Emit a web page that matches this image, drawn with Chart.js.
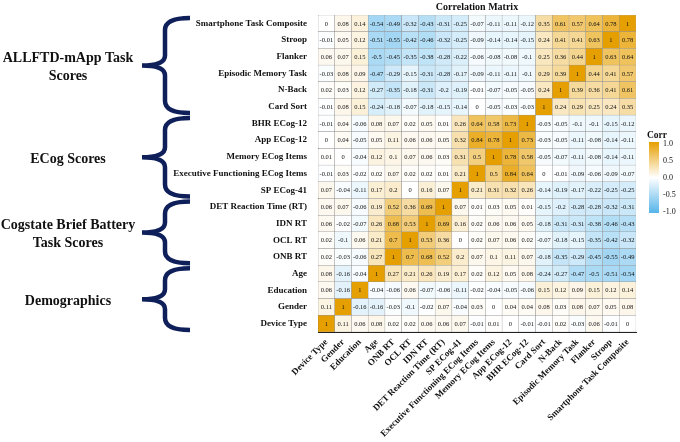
<!DOCTYPE html>
<html>
<head>
<meta charset="utf-8">
<script src="https://cdn.jsdelivr.net/npm/chart.js@4.4.0/dist/chart.umd.min.js"></script>
<style>
  html, body { margin: 0; padding: 0; background: #fff; }
  canvas { display: block; }
</style>
</head>
<body>
<canvas id="corrChart" width="680" height="442" style="width:680px;height:442px"></canvas>
<script>
// ── Data ────────────────────────────────────────────────
// rows listed top → bottom, columns left → right
const rowLabels = [
  'Smartphone Task Composite', 'Stroop', 'Flanker', 'Episodic Memory Task', 'N-Back', 'Card Sort',
  'BHR ECog-12', 'App ECog-12', 'Memory ECog Items', 'Executive Functioning ECog Items', 'SP ECog-41',
  'DET Reaction Time (RT)', 'IDN RT', 'OCL RT', 'ONB RT',
  'Age', 'Education', 'Gender', 'Device Type'
];
const colLabels = [
  'Device Type', 'Gender', 'Education', 'Age', 'ONB RT', 'OCL RT', 'IDN RT', 'DET Reaction Time (RT)',
  'SP ECog-41', 'Executive Functioning ECog Items', 'Memory ECog Items', 'App ECog-12', 'BHR ECog-12',
  'Card Sort', 'N-Back', 'Episodic Memory Task', 'Flanker', 'Stroop', 'Smartphone Task Composite'
];
const corr = [
  [0, 0.08, 0.14, -0.54, -0.49, -0.32, -0.43, -0.31, -0.25, -0.07, -0.11, -0.11, -0.12, 0.35, 0.61, 0.57, 0.64, 0.78, 1],
  [-0.01, 0.05, 0.12, -0.51, -0.55, -0.42, -0.46, -0.32, -0.25, -0.09, -0.14, -0.14, -0.15, 0.24, 0.41, 0.41, 0.63, 1, 0.78],
  [0.06, 0.07, 0.15, -0.5, -0.45, -0.35, -0.38, -0.28, -0.22, -0.06, -0.08, -0.08, -0.1, 0.25, 0.36, 0.44, 1, 0.63, 0.64],
  [-0.03, 0.08, 0.09, -0.47, -0.29, -0.15, -0.31, -0.28, -0.17, -0.09, -0.11, -0.11, -0.1, 0.29, 0.39, 1, 0.44, 0.41, 0.57],
  [0.02, 0.03, 0.12, -0.27, -0.35, -0.18, -0.31, -0.2, -0.19, -0.01, -0.07, -0.05, -0.05, 0.24, 1, 0.39, 0.36, 0.41, 0.61],
  [-0.01, 0.08, 0.15, -0.24, -0.18, -0.07, -0.18, -0.15, -0.14, 0, -0.05, -0.03, -0.03, 1, 0.24, 0.29, 0.25, 0.24, 0.35],
  [-0.01, 0.04, -0.06, 0.08, 0.07, 0.02, 0.05, 0.01, 0.26, 0.64, 0.58, 0.73, 1, -0.03, -0.05, -0.1, -0.1, -0.15, -0.12],
  [0, 0.04, -0.05, 0.05, 0.11, 0.06, 0.06, 0.05, 0.32, 0.84, 0.78, 1, 0.73, -0.03, -0.05, -0.11, -0.08, -0.14, -0.11],
  [0.01, 0, -0.04, 0.12, 0.1, 0.07, 0.06, 0.03, 0.31, 0.5, 1, 0.78, 0.58, -0.05, -0.07, -0.11, -0.08, -0.14, -0.11],
  [-0.01, 0.03, -0.02, 0.02, 0.07, 0.02, 0.02, 0.01, 0.21, 1, 0.5, 0.84, 0.64, 0, -0.01, -0.09, -0.06, -0.09, -0.07],
  [0.07, -0.04, -0.11, 0.17, 0.2, 0, 0.16, 0.07, 1, 0.21, 0.31, 0.32, 0.26, -0.14, -0.19, -0.17, -0.22, -0.25, -0.25],
  [0.06, 0.07, -0.06, 0.19, 0.52, 0.36, 0.69, 1, 0.07, 0.01, 0.03, 0.05, 0.01, -0.15, -0.2, -0.28, -0.28, -0.32, -0.31],
  [0.06, -0.02, -0.07, 0.26, 0.68, 0.53, 1, 0.69, 0.16, 0.02, 0.06, 0.06, 0.05, -0.18, -0.31, -0.31, -0.38, -0.46, -0.43],
  [0.02, -0.1, 0.06, 0.21, 0.7, 1, 0.53, 0.36, 0, 0.02, 0.07, 0.06, 0.02, -0.07, -0.18, -0.15, -0.35, -0.42, -0.32],
  [0.02, -0.03, -0.06, 0.27, 1, 0.7, 0.68, 0.52, 0.2, 0.07, 0.1, 0.11, 0.07, -0.18, -0.35, -0.29, -0.45, -0.55, -0.49],
  [0.08, -0.16, -0.04, 1, 0.27, 0.21, 0.26, 0.19, 0.17, 0.02, 0.12, 0.05, 0.08, -0.24, -0.27, -0.47, -0.5, -0.51, -0.54],
  [0.06, -0.16, 1, -0.04, -0.06, 0.06, -0.07, -0.06, -0.11, -0.02, -0.04, -0.05, -0.06, 0.15, 0.12, 0.09, 0.15, 0.12, 0.14],
  [0.11, 1, -0.16, -0.16, -0.03, -0.1, -0.02, 0.07, -0.04, 0.03, 0, 0.04, 0.04, 0.08, 0.03, 0.08, 0.07, 0.05, 0.08],
  [1, 0.11, 0.06, 0.08, 0.02, 0.02, 0.06, 0.06, 0.07, -0.01, 0.01, 0, -0.01, -0.01, 0.02, -0.03, 0.06, -0.01, 0]
];
// row groups (first row, last row) with their side labels
const groupNames = [['ALLFTD-mApp Task', 'Scores'], ['ECog Scores'], ['Cogstate Brief Battery', 'Task Scores'], ['Demographics']];
const groupFirst = ['Smartphone Task Composite', 'BHR ECog-12', 'DET Reaction Time (RT)', 'Age'];
const groupLast  = ['Card Sort', 'SP ECog-41', 'ONB RT', 'Device Type'];
const legendTicks = [1, 0.5, 0, -0.5, -1];

// ── Style ───────────────────────────────────────────────
const SERIF = "'Liberation Serif', 'DejaVu Serif', serif";
const LOW  = [86, 180, 233];
const HIGH = [230, 159, 0];
const NAVY = '#0f1f5a';

function corrColor(v) {
  const c = v >= 0 ? HIGH : LOW;
  const t = Math.min(Math.abs(v), 1);
  const m = (k) => Math.round(255 + (c[k] - 255) * t);
  return `rgb(${m(0)},${m(1)},${m(2)})`;
}

// stacked bars: dataset 0 sits at the bottom
const rowsBottomUp = [...rowLabels].reverse();
const datasets = rowLabels.map((name, r) => ({
  label: name,
  data: colLabels.map(() => 1),
  values: corr[r],
  backgroundColor: corr[r].map(corrColor),
  borderColor: 'rgba(140,140,140,0.85)',
  borderWidth: 0.5,
  borderSkipped: false,
  categoryPercentage: 1,
  barPercentage: 1,
})).reverse();

// ── Plugins ─────────────────────────────────────────────
const cellText = {
  id: 'cellText',
  afterDatasetsDraw(chart) {
    const ctx = chart.ctx;
    ctx.save();
    ctx.font = `6.5px ${SERIF}`;
    ctx.fillStyle = '#111';
    ctx.textAlign = 'center';
    ctx.textBaseline = 'middle';
    chart.data.datasets.forEach((ds, i) => {
      chart.getDatasetMeta(i).data.forEach((bar, j) => {
        ctx.fillText(String(ds.values[j]), bar.x, (bar.y + bar.base) / 2 + 0.5);
      });
    });
    ctx.restore();
  }
};

const braces = {
  id: 'braces',
  afterDraw(chart) {
    const ctx = chart.ctx;
    const y = chart.scales.y;
    const xEnd = 190, xSpine = 165, xTip = 142, textX = 68;
    ctx.save();
    groupNames.forEach((lines, g) => {
      const k1 = rowLabels.indexOf(groupFirst[g]);
      const k2 = rowLabels.indexOf(groupLast[g]);
      const top = y.getPixelForValue(rowLabels.length - k1) + 3;
      const bot = y.getPixelForValue(rowLabels.length - k2 - 1) - 2;
      const mid = (top + bot) / 2;
      ctx.strokeStyle = NAVY;
      ctx.lineWidth = 4.5;
      ctx.lineCap = 'butt';
      ctx.beginPath();
      ctx.moveTo(xEnd, top);
      ctx.quadraticCurveTo(xSpine, top, xSpine, top + 12);
      ctx.lineTo(xSpine, mid - 10);
      ctx.quadraticCurveTo(xSpine, mid, xTip, mid);
      ctx.quadraticCurveTo(xSpine, mid, xSpine, mid + 10);
      ctx.lineTo(xSpine, bot - 12);
      ctx.quadraticCurveTo(xSpine, bot, xEnd, bot);
      ctx.stroke();

      ctx.fillStyle = '#111';
      ctx.font = `bold 14px ${SERIF}`;
      ctx.textAlign = 'center';
      ctx.textBaseline = 'middle';
      const lh = 18;
      const start = mid + 2 - (lines.length - 1) * lh / 2;
      lines.forEach((t, i) => ctx.fillText(t, textX, start + i * lh));
    });
    ctx.restore();
  }
};

const corrLegend = {
  id: 'corrLegend',
  afterDraw(chart) {
    const ctx = chart.ctx;
    const x0 = 649, w = 10, top = 142, bot = 213;
    ctx.save();
    const grad = ctx.createLinearGradient(0, top, 0, bot);
    grad.addColorStop(0, corrColor(1));
    grad.addColorStop(0.5, corrColor(0));
    grad.addColorStop(1, corrColor(-1));
    ctx.fillStyle = grad;
    ctx.fillRect(x0, top, w, bot - top);

    ctx.fillStyle = '#111';
    ctx.font = `bold 9.5px ${SERIF}`;
    ctx.textAlign = 'left';
    ctx.textBaseline = 'middle';
    ctx.fillText('Corr', 647, 136);
    ctx.font = `8px ${SERIF}`;
    legendTicks.forEach(v => {
      const py = top + 1.5 + (1 - v) / 2 * (bot - top - 3);
      ctx.fillText(v.toFixed(1), x0 + w + 4, py);
    });
    ctx.restore();
  }
};

const matrixTitle = {
  id: 'matrixTitle',
  afterDraw(chart) {
    const { ctx, chartArea } = chart;
    ctx.save();
    ctx.fillStyle = '#111';
    ctx.font = `bold 10px ${SERIF}`;
    ctx.textAlign = 'center';
    ctx.textBaseline = 'middle';
    ctx.fillText('Correlation Matrix', (chartArea.left + chartArea.right) / 2, 7);
    ctx.restore();
  }
};

// ── Chart ───────────────────────────────────────────────
const tickFont = { family: SERIF, size: 9, weight: 'bold' };

new Chart(document.getElementById('corrChart').getContext('2d'), {
  type: 'bar',
  data: { labels: colLabels, datasets },
  options: {
    responsive: false,
    animation: false,
    layout: { padding: { left: 0, right: 44, top: 15, bottom: 0 } },
    plugins: {
      legend: { display: false },
      tooltip: { enabled: false },
    },
    scales: {
      x: {
        stacked: true,
        grid: { display: false },
        border: { display: true, color: '#222', width: 1 },
        ticks: { autoSkip: false, minRotation: 45, maxRotation: 45, color: '#111', font: tickFont, padding: -3 },
        afterFit: (axis) => { axis.height = 110; },
      },
      y: {
        stacked: true,
        min: 0,
        max: rowLabels.length,
        grid: { display: false },
        border: { display: true, color: '#222', width: 1 },
        afterBuildTicks: (axis) => { axis.ticks = rowsBottomUp.map((_, i) => ({ value: i + 0.5 })); },
        ticks: {
          autoSkip: false,
          color: '#111',
          font: tickFont,
          padding: 3,
          callback: (v, i) => rowsBottomUp[i],
        },
        afterFit: (axis) => { axis.width = 318; },
      },
    },
  },
  plugins: [cellText, braces, corrLegend, matrixTitle],
});
</script>
</body>
</html>
